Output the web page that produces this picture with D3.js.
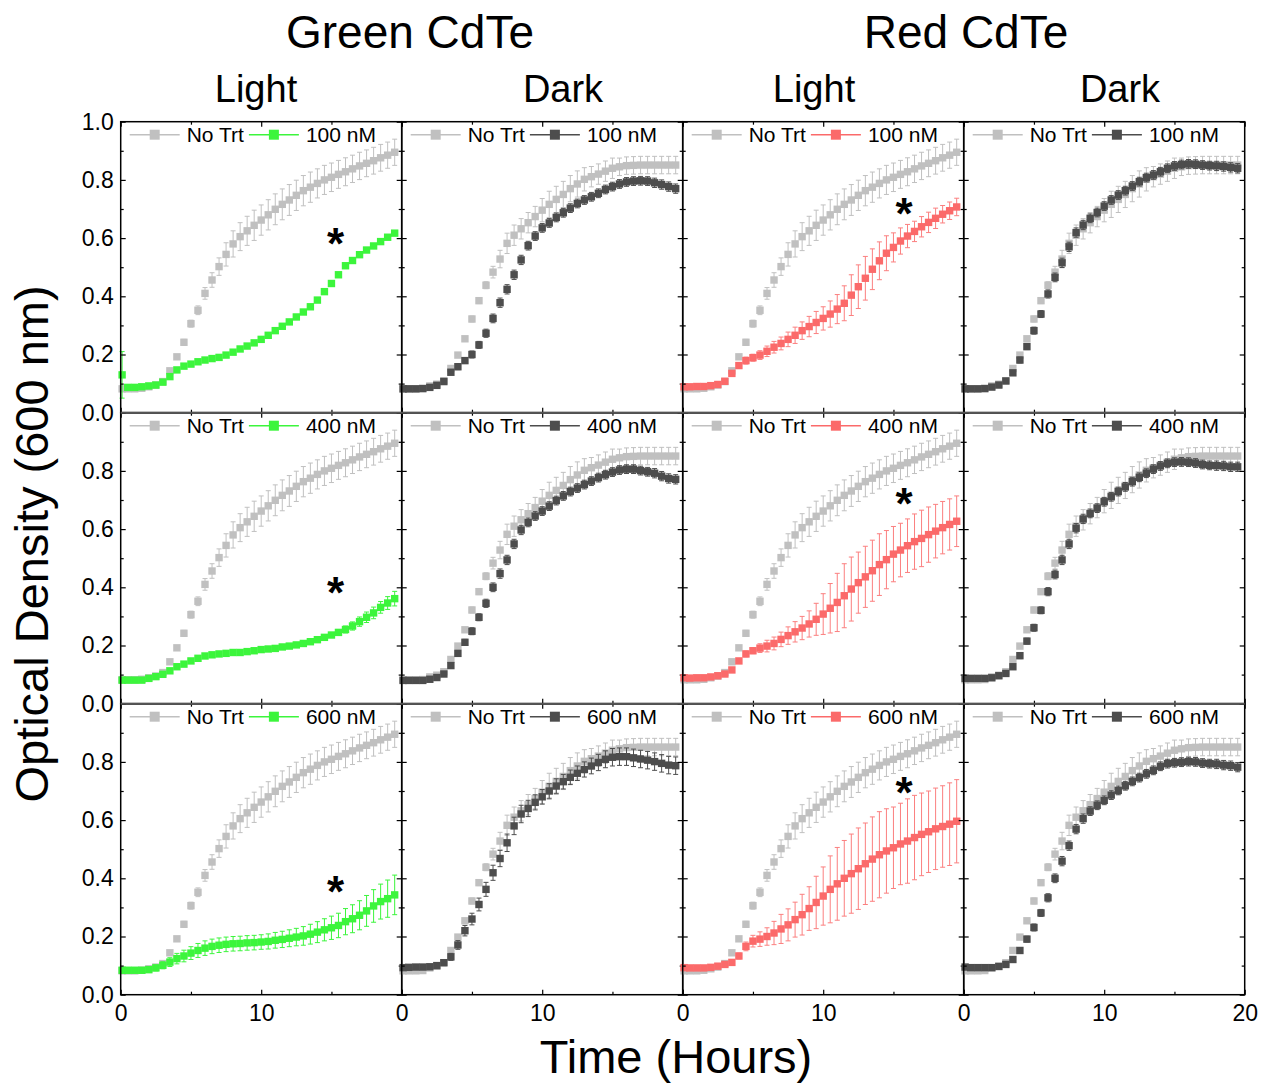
<!DOCTYPE html>
<html>
<head>
<meta charset="utf-8">
<script src="https://cdn.jsdelivr.net/npm/d3@7"></script>
<style>
  html, body { margin: 0; padding: 0; background: #fff; }
  svg { display: block; font-family: "Liberation Sans", Arial, sans-serif; }
</style>
</head>
<body>
<svg id="chart" width="1271" height="1084"></svg>
<script>
// ---------------- data ----------------
const hours = [0.1,0.5,1.0,1.5,2.0,2.5,3.0,3.5,4.0,4.5,5.0,5.5,6.0,6.5,7.0,7.5,8.0,8.5,9.0,9.5,
               10.0,10.5,11.0,11.5,12.0,12.5,13.0,13.5,14.0,14.5,15.0,15.5,16.0,16.5,17.0,17.5,18.0,18.5,19.0,19.5];

const groupTitles = ["Green CdTe", "Red CdTe"];
const conditionTitles = ["Light", "Dark", "Light", "Dark"];
const concentrations = ["100 nM", "400 nM", "600 nM"];
const controlLabel = "No Trt";
const yTickValues = [0, 0.2, 0.4, 0.6, 0.8, 1.0];
const xTickValues = [0, 10, 20];

// untreated controls (same in every panel of a condition)
const lightCtrl = [0.082,0.082,0.082,0.084,0.089,0.095,0.107,0.144,0.192,0.242,0.306,0.352,0.41,0.456,0.502,0.544,0.58,0.605,0.625,0.644,
                   0.662,0.68,0.699,0.716,0.731,0.747,0.763,0.775,0.788,0.80,0.809,0.819,0.828,0.838,0.848,0.857,0.866,0.876,0.885,0.895];
const lightCtrlErr = [0.003,0.003,0.003,0.003,0.004,0.005,0.006,0.008,0.008,0.01,0.012,0.015,0.02,0.025,0.03,0.04,0.045,0.048,0.05,0.052,
                      0.052,0.052,0.053,0.053,0.053,0.052,0.052,0.052,0.05,0.05,0.049,0.048,0.048,0.047,0.047,0.046,0.046,0.046,0.045,0.045];
const darkCtrl = [0.082,0.082,0.082,0.083,0.092,0.098,0.11,0.152,0.198,0.254,0.322,0.385,0.438,0.483,0.528,0.582,0.61,0.632,0.653,0.674,
                  0.696,0.716,0.733,0.75,0.77,0.786,0.802,0.811,0.82,0.83,0.84,0.845,0.849,0.85,0.851,0.851,0.851,0.851,0.851,0.851];
const darkCtrlErr = [0.003,0.003,0.003,0.003,0.004,0.005,0.006,0.006,0.007,0.008,0.01,0.01,0.012,0.02,0.03,0.035,0.035,0.035,0.035,0.035,
                     0.04,0.045,0.045,0.045,0.045,0.045,0.04,0.035,0.035,0.035,0.035,0.03,0.03,0.03,0.03,0.03,0.03,0.03,0.03,0.03];

// Green CdTe, light
const green100 = [0.13,0.087,0.087,0.089,0.092,0.095,0.105,0.124,0.147,0.16,0.167,0.175,0.181,0.186,0.19,0.198,0.208,0.219,0.229,0.24,
                  0.252,0.266,0.282,0.297,0.312,0.329,0.346,0.364,0.387,0.416,0.444,0.474,0.505,0.523,0.543,0.559,0.573,0.588,0.603,0.617];
const green100Err = [0.08,0.004,0.004,0.004,0.004,0.004,0.004,0.005,0.005,0.005,0.005,0.005,0.005,0.005,0.005,0.005,0.005,0.005,0.005,0.005,
                     0.005,0.005,0.005,0.005,0.005,0.005,0.005,0.005,0.006,0.006,0.006,0.006,0.006,0.006,0.006,0.006,0.006,0.006,0.006,0.006];
const green400 = [0.081,0.081,0.081,0.081,0.087,0.093,0.101,0.113,0.127,0.136,0.147,0.156,0.164,0.168,0.171,0.173,0.176,0.176,0.179,0.182,
                  0.186,0.188,0.19,0.195,0.198,0.202,0.207,0.213,0.22,0.228,0.236,0.245,0.255,0.267,0.282,0.297,0.312,0.331,0.346,0.361];
const green400Err = [0.004,0.004,0.004,0.004,0.004,0.004,0.004,0.004,0.004,0.004,0.004,0.004,0.004,0.004,0.004,0.004,0.004,0.004,0.004,0.004,
                     0.004,0.004,0.004,0.004,0.004,0.004,0.004,0.004,0.005,0.006,0.008,0.01,0.012,0.014,0.016,0.018,0.02,0.02,0.022,0.025];
const green600 = [0.084,0.084,0.084,0.084,0.086,0.092,0.101,0.112,0.124,0.133,0.143,0.152,0.16,0.166,0.17,0.173,0.175,0.176,0.178,0.179,
                  0.181,0.183,0.187,0.19,0.194,0.198,0.202,0.208,0.215,0.223,0.23,0.238,0.251,0.261,0.273,0.288,0.305,0.32,0.33,0.343];
const green600Err = [0.004,0.004,0.004,0.004,0.005,0.01,0.012,0.015,0.018,0.02,0.022,0.024,0.025,0.025,0.025,0.025,0.025,0.025,0.025,0.025,
                     0.025,0.026,0.027,0.028,0.029,0.03,0.032,0.034,0.036,0.038,0.04,0.042,0.045,0.048,0.05,0.053,0.056,0.06,0.064,0.068];

// Green CdTe, dark
const greenDark100 = [0.082,0.082,0.082,0.083,0.087,0.094,0.107,0.139,0.158,0.179,0.2,0.233,0.273,0.324,0.378,0.424,0.474,0.525,0.574,0.607,
                      0.635,0.652,0.671,0.687,0.703,0.719,0.731,0.742,0.754,0.767,0.777,0.786,0.793,0.796,0.797,0.796,0.79,0.784,0.777,0.77];
const greenDark400 = [0.08,0.08,0.08,0.08,0.084,0.09,0.102,0.131,0.173,0.211,0.249,0.297,0.345,0.40,0.447,0.494,0.549,0.597,0.623,0.645,
                      0.662,0.679,0.698,0.714,0.729,0.741,0.753,0.765,0.777,0.787,0.796,0.803,0.806,0.806,0.801,0.797,0.792,0.782,0.774,0.771];
const greenDark600 = [0.093,0.094,0.095,0.095,0.096,0.1,0.11,0.13,0.171,0.22,0.26,0.31,0.362,0.419,0.468,0.522,0.58,0.621,0.64,0.661,
                      0.68,0.70,0.717,0.732,0.747,0.761,0.774,0.786,0.798,0.809,0.816,0.818,0.818,0.814,0.81,0.806,0.801,0.795,0.789,0.787];

// Red CdTe, light
const red100 = [0.089,0.089,0.09,0.09,0.093,0.097,0.108,0.135,0.162,0.179,0.189,0.198,0.211,0.225,0.238,0.252,0.266,0.282,0.296,0.31,
                0.324,0.339,0.356,0.376,0.404,0.433,0.462,0.493,0.522,0.548,0.568,0.59,0.607,0.623,0.639,0.654,0.668,0.682,0.694,0.707];
const red100Err = [0.003,0.003,0.003,0.003,0.004,0.005,0.006,0.008,0.01,0.012,0.012,0.015,0.018,0.02,0.022,0.025,0.028,0.03,0.035,0.038,
                   0.04,0.045,0.05,0.06,0.07,0.075,0.075,0.07,0.065,0.06,0.05,0.045,0.04,0.035,0.035,0.035,0.035,0.03,0.03,0.03];
const red400 = [0.089,0.088,0.089,0.089,0.092,0.096,0.102,0.116,0.147,0.171,0.182,0.191,0.198,0.207,0.221,0.234,0.247,0.26,0.274,0.29,
                0.308,0.328,0.348,0.371,0.394,0.416,0.436,0.457,0.478,0.495,0.514,0.528,0.543,0.557,0.568,0.581,0.593,0.605,0.616,0.627];
const red400Err = [0.003,0.003,0.003,0.003,0.004,0.005,0.006,0.008,0.008,0.01,0.01,0.015,0.02,0.022,0.025,0.03,0.035,0.04,0.045,0.055,
                   0.07,0.085,0.1,0.11,0.11,0.105,0.105,0.105,0.106,0.1,0.095,0.092,0.092,0.095,0.097,0.095,0.092,0.09,0.088,0.087];
const red600 = [0.093,0.092,0.092,0.092,0.094,0.098,0.104,0.111,0.133,0.166,0.184,0.191,0.2,0.212,0.226,0.24,0.258,0.275,0.296,0.317,
                0.339,0.362,0.381,0.40,0.416,0.433,0.45,0.466,0.481,0.494,0.505,0.518,0.528,0.54,0.551,0.56,0.57,0.578,0.586,0.596];
const red600Err = [0.003,0.003,0.003,0.003,0.004,0.005,0.006,0.008,0.01,0.015,0.02,0.025,0.03,0.04,0.05,0.055,0.06,0.07,0.075,0.09,
                   0.1,0.115,0.125,0.13,0.136,0.14,0.14,0.145,0.148,0.145,0.14,0.14,0.145,0.145,0.142,0.14,0.14,0.14,0.142,0.143];

// Red CdTe, dark
const redDark100 = [0.082,0.082,0.082,0.083,0.088,0.095,0.109,0.137,0.181,0.227,0.282,0.339,0.408,0.465,0.515,0.57,0.619,0.645,0.668,0.688,
                    0.71,0.731,0.748,0.763,0.779,0.794,0.808,0.817,0.828,0.84,0.848,0.853,0.855,0.854,0.851,0.849,0.848,0.846,0.843,0.84];
const redDark400 = [0.087,0.087,0.087,0.087,0.089,0.096,0.104,0.127,0.165,0.215,0.261,0.321,0.385,0.444,0.494,0.549,0.603,0.635,0.654,0.672,
                    0.694,0.711,0.729,0.745,0.763,0.778,0.792,0.806,0.817,0.826,0.83,0.831,0.83,0.827,0.822,0.819,0.818,0.817,0.814,0.814];
const redDark600 = [0.095,0.093,0.093,0.093,0.093,0.097,0.104,0.121,0.152,0.191,0.231,0.281,0.333,0.40,0.459,0.512,0.569,0.605,0.631,0.651,
                    0.668,0.686,0.702,0.718,0.733,0.746,0.759,0.771,0.785,0.794,0.797,0.799,0.801,0.80,0.796,0.794,0.793,0.789,0.787,0.782];

const darkTrtErr = [0.003,0.003,0.003,0.003,0.004,0.005,0.006,0.008,0.01,0.01,0.012,0.012,0.014,0.015,0.016,0.016,0.016,0.016,0.015,0.015,
                    0.015,0.015,0.015,0.015,0.015,0.015,0.015,0.015,0.015,0.015,0.015,0.015,0.015,0.015,0.015,0.015,0.016,0.016,0.016,0.016];
const greenDark600Err = [0.008,0.008,0.008,0.008,0.008,0.008,0.01,0.012,0.015,0.018,0.02,0.022,0.024,0.026,0.028,0.03,0.03,0.03,0.028,0.026,
                         0.025,0.025,0.025,0.025,0.025,0.025,0.026,0.027,0.028,0.029,0.03,0.03,0.03,0.03,0.03,0.03,0.03,0.03,0.03,0.03];

// significance markers (hours, OD at centre of the asterisk) for light panels
const starHours = [15.3, 15.3, 15.3, 15.75, 15.75, 15.75];
const starOD    = [0.60, 0.401, 0.373, 0.703, 0.707, 0.714];

// ---------------- styles / layout ----------------
const COL_CTRL = "#c0c0c0";
const COL_DARK = "#4d4d4d";
const COL_GREEN = "#3cf53c";
const COL_RED = "#fb6a6a";

const LEFT = 120.7, TOP = 121.7, PW = 281, PH = 291;

const panels = [
  {row:0,col:0, ctrl:lightCtrl, ctrlErr:lightCtrlErr, trt:green100, trtErr:green100Err, color:COL_GREEN, star:0},
  {row:0,col:1, ctrl:darkCtrl,  ctrlErr:darkCtrlErr,  trt:greenDark100, trtErr:darkTrtErr, color:COL_DARK},
  {row:0,col:2, ctrl:lightCtrl, ctrlErr:lightCtrlErr, trt:red100, trtErr:red100Err, color:COL_RED, star:3},
  {row:0,col:3, ctrl:darkCtrl,  ctrlErr:darkCtrlErr,  trt:redDark100, trtErr:darkTrtErr, color:COL_DARK},
  {row:1,col:0, ctrl:lightCtrl, ctrlErr:lightCtrlErr, trt:green400, trtErr:green400Err, color:COL_GREEN, star:1},
  {row:1,col:1, ctrl:darkCtrl,  ctrlErr:darkCtrlErr,  trt:greenDark400, trtErr:darkTrtErr, color:COL_DARK},
  {row:1,col:2, ctrl:lightCtrl, ctrlErr:lightCtrlErr, trt:red400, trtErr:red400Err, color:COL_RED, star:4},
  {row:1,col:3, ctrl:darkCtrl,  ctrlErr:darkCtrlErr,  trt:redDark400, trtErr:darkTrtErr, color:COL_DARK},
  {row:2,col:0, ctrl:lightCtrl, ctrlErr:lightCtrlErr, trt:green600, trtErr:green600Err, color:COL_GREEN, star:2},
  {row:2,col:1, ctrl:darkCtrl,  ctrlErr:darkCtrlErr,  trt:greenDark600, trtErr:greenDark600Err, color:COL_DARK},
  {row:2,col:2, ctrl:lightCtrl, ctrlErr:lightCtrlErr, trt:red600, trtErr:red600Err, color:COL_RED, star:5},
  {row:2,col:3, ctrl:darkCtrl,  ctrlErr:darkCtrlErr,  trt:redDark600, trtErr:darkTrtErr, color:COL_DARK}
];

const svg = d3.select("#chart");

function drawSeries(g, x, y, vals, errs, color, errOpacity) {
  const pts = vals.map((v, i) => ({t: hours[i], v: v, e: errs[i]}));
  const eb = g.append("g").attr("stroke", color).attr("stroke-width", 1).attr("opacity", errOpacity);
  eb.selectAll("line.v").data(pts).join("line").attr("class", "v")
    .attr("x1", d => x(d.t)).attr("x2", d => x(d.t))
    .attr("y1", d => y(d.v - d.e)).attr("y2", d => y(d.v + d.e));
  eb.selectAll("line.t").data(pts).join("line").attr("class", "t")
    .attr("x1", d => x(d.t) - 2.5).attr("x2", d => x(d.t) + 2.5)
    .attr("y1", d => y(d.v + d.e)).attr("y2", d => y(d.v + d.e));
  eb.selectAll("line.b").data(pts).join("line").attr("class", "b")
    .attr("x1", d => x(d.t) - 2.5).attr("x2", d => x(d.t) + 2.5)
    .attr("y1", d => y(d.v - d.e)).attr("y2", d => y(d.v - d.e));
  const s = 7.4;
  g.append("g").selectAll("rect").data(pts).join("rect")
    .attr("x", d => x(d.t) - s / 2).attr("y", d => y(d.v) - s / 2)
    .attr("width", s).attr("height", s).attr("fill", color);
}

panels.forEach(p => {
  const x0 = LEFT + p.col * PW;
  const yBottom = TOP + (p.row + 1) * PH;
  const x = d3.scaleLinear().domain([0, 20]).range([x0, x0 + PW]);
  const y = d3.scaleLinear().domain([0, 1]).range([yBottom, yBottom - PH]);
  const g = svg.append("g");

  drawSeries(g, x, y, p.ctrl, p.ctrlErr, COL_CTRL, 1);
  drawSeries(g, x, y, p.trt, p.trtErr, p.color, p.color === COL_RED ? 0.85 : 1);

  const yMinor = [0.1, 0.3, 0.5, 0.7, 0.9];
  const styleAxis = sel => { sel.select(".domain").remove(); sel.selectAll("line").attr("stroke", "#000").attr("stroke-width", 1.2); };

  const la = g.append("g").attr("transform", `translate(${x0},0)`)
    .call(d3.axisLeft(y).tickValues(p.col === 0 ? (p.row === 0 ? yTickValues : yTickValues.slice(0, 5)) : yTickValues)
      .tickSize(-5).tickPadding(7).tickFormat(p.col === 0 ? d3.format(".1f") : () => ""));
  styleAxis(la);
  la.selectAll("text").attr("font-size", 23).attr("fill", "#000").attr("font-family", "Liberation Sans, Arial, sans-serif");
  styleAxis(g.append("g").attr("transform", `translate(${x0},0)`).call(d3.axisLeft(y).tickValues(yMinor).tickSize(-3).tickFormat(() => "")));
  styleAxis(g.append("g").attr("transform", `translate(${x0 + PW},0)`).call(d3.axisRight(y).tickValues(yTickValues).tickSize(-5).tickFormat(() => "")));
  styleAxis(g.append("g").attr("transform", `translate(${x0 + PW},0)`).call(d3.axisRight(y).tickValues(yMinor).tickSize(-3).tickFormat(() => "")));

  const showX = p.row === 2;
  const xVals = p.col === 3 ? xTickValues : xTickValues.slice(0, 2);
  const ba = g.append("g").attr("transform", `translate(0,${yBottom})`)
    .call(d3.axisBottom(x).tickValues(xTickValues).tickSize(-5).tickPadding(10)
      .tickFormat(d => (showX && xVals.includes(d)) ? d3.format("d")(d) : ""));
  styleAxis(ba);
  ba.selectAll("text").attr("font-size", 23).attr("fill", "#000").attr("font-family", "Liberation Sans, Arial, sans-serif");
  styleAxis(g.append("g").attr("transform", `translate(0,${yBottom})`).call(d3.axisBottom(x).tickValues([5, 15]).tickSize(-3).tickFormat(() => "")));
  styleAxis(g.append("g").attr("transform", `translate(0,${yBottom - PH})`).call(d3.axisTop(x).tickValues(xTickValues).tickSize(-5).tickFormat(() => "")));
  styleAxis(g.append("g").attr("transform", `translate(0,${yBottom - PH})`).call(d3.axisTop(x).tickValues([5, 15]).tickSize(-3).tickFormat(() => "")));

  g.append("rect").attr("x", x0).attr("y", yBottom - PH).attr("width", PW).attr("height", PH)
    .attr("fill", "none").attr("stroke", "#000").attr("stroke-width", 1.5);

  // legend
  const lg = g.append("g").attr("font-size", 21).attr("fill", "#000");
  const ly = yBottom - PH + 13;
  const items = [{c: COL_CTRL, t: controlLabel}, {c: p.color, t: concentrations[p.row]}];
  let cx = x0 + 9;
  items.forEach(it => {
    lg.append("line").attr("x1", cx).attr("x2", cx + 50).attr("y1", ly).attr("y2", ly)
      .attr("stroke", it.c).attr("stroke-width", 1.5);
    lg.append("rect").attr("x", cx + 25 - 5).attr("y", ly - 5).attr("width", 10).attr("height", 10).attr("fill", it.c);
    const tx = lg.append("text").attr("x", cx + 57).attr("y", ly + 7.5).text(it.t);
    cx = cx + 57 + tx.node().getComputedTextLength() + 5;
  });

  if (p.star !== undefined) {
    g.append("text").attr("x", x(starHours[p.star])).attr("y", y(starOD[p.star]) + 21)
      .attr("text-anchor", "middle").attr("font-size", 44).attr("font-weight", "bold").text("*");
  }
});

[1, 2].forEach(r => {
  svg.append("line").attr("x1", LEFT).attr("x2", LEFT + 4 * PW)
    .attr("y1", TOP + r * PH).attr("y2", TOP + r * PH)
    .attr("stroke", "#555").attr("stroke-width", 2);
});

const gTitleX = [410, 966];
groupTitles.forEach((t, i) => {
  svg.append("text").attr("x", gTitleX[i]).attr("y", 48).attr("text-anchor", "middle")
    .attr("font-size", 46).text(t);
});
const cTitleX = [256, 563, 814, 1120];
conditionTitles.forEach((t, i) => {
  svg.append("text").attr("x", cTitleX[i]).attr("y", 102).attr("text-anchor", "middle")
    .attr("font-size", 38).text(t);
});

svg.append("text").attr("transform", "translate(48,544) rotate(-90)").attr("text-anchor", "middle")
  .attr("font-size", 47).text("Optical Density (600 nm)");
svg.append("text").attr("x", 676).attr("y", 1073).attr("text-anchor", "middle")
  .attr("font-size", 47).text("Time (Hours)");
</script>
</body>
</html>
